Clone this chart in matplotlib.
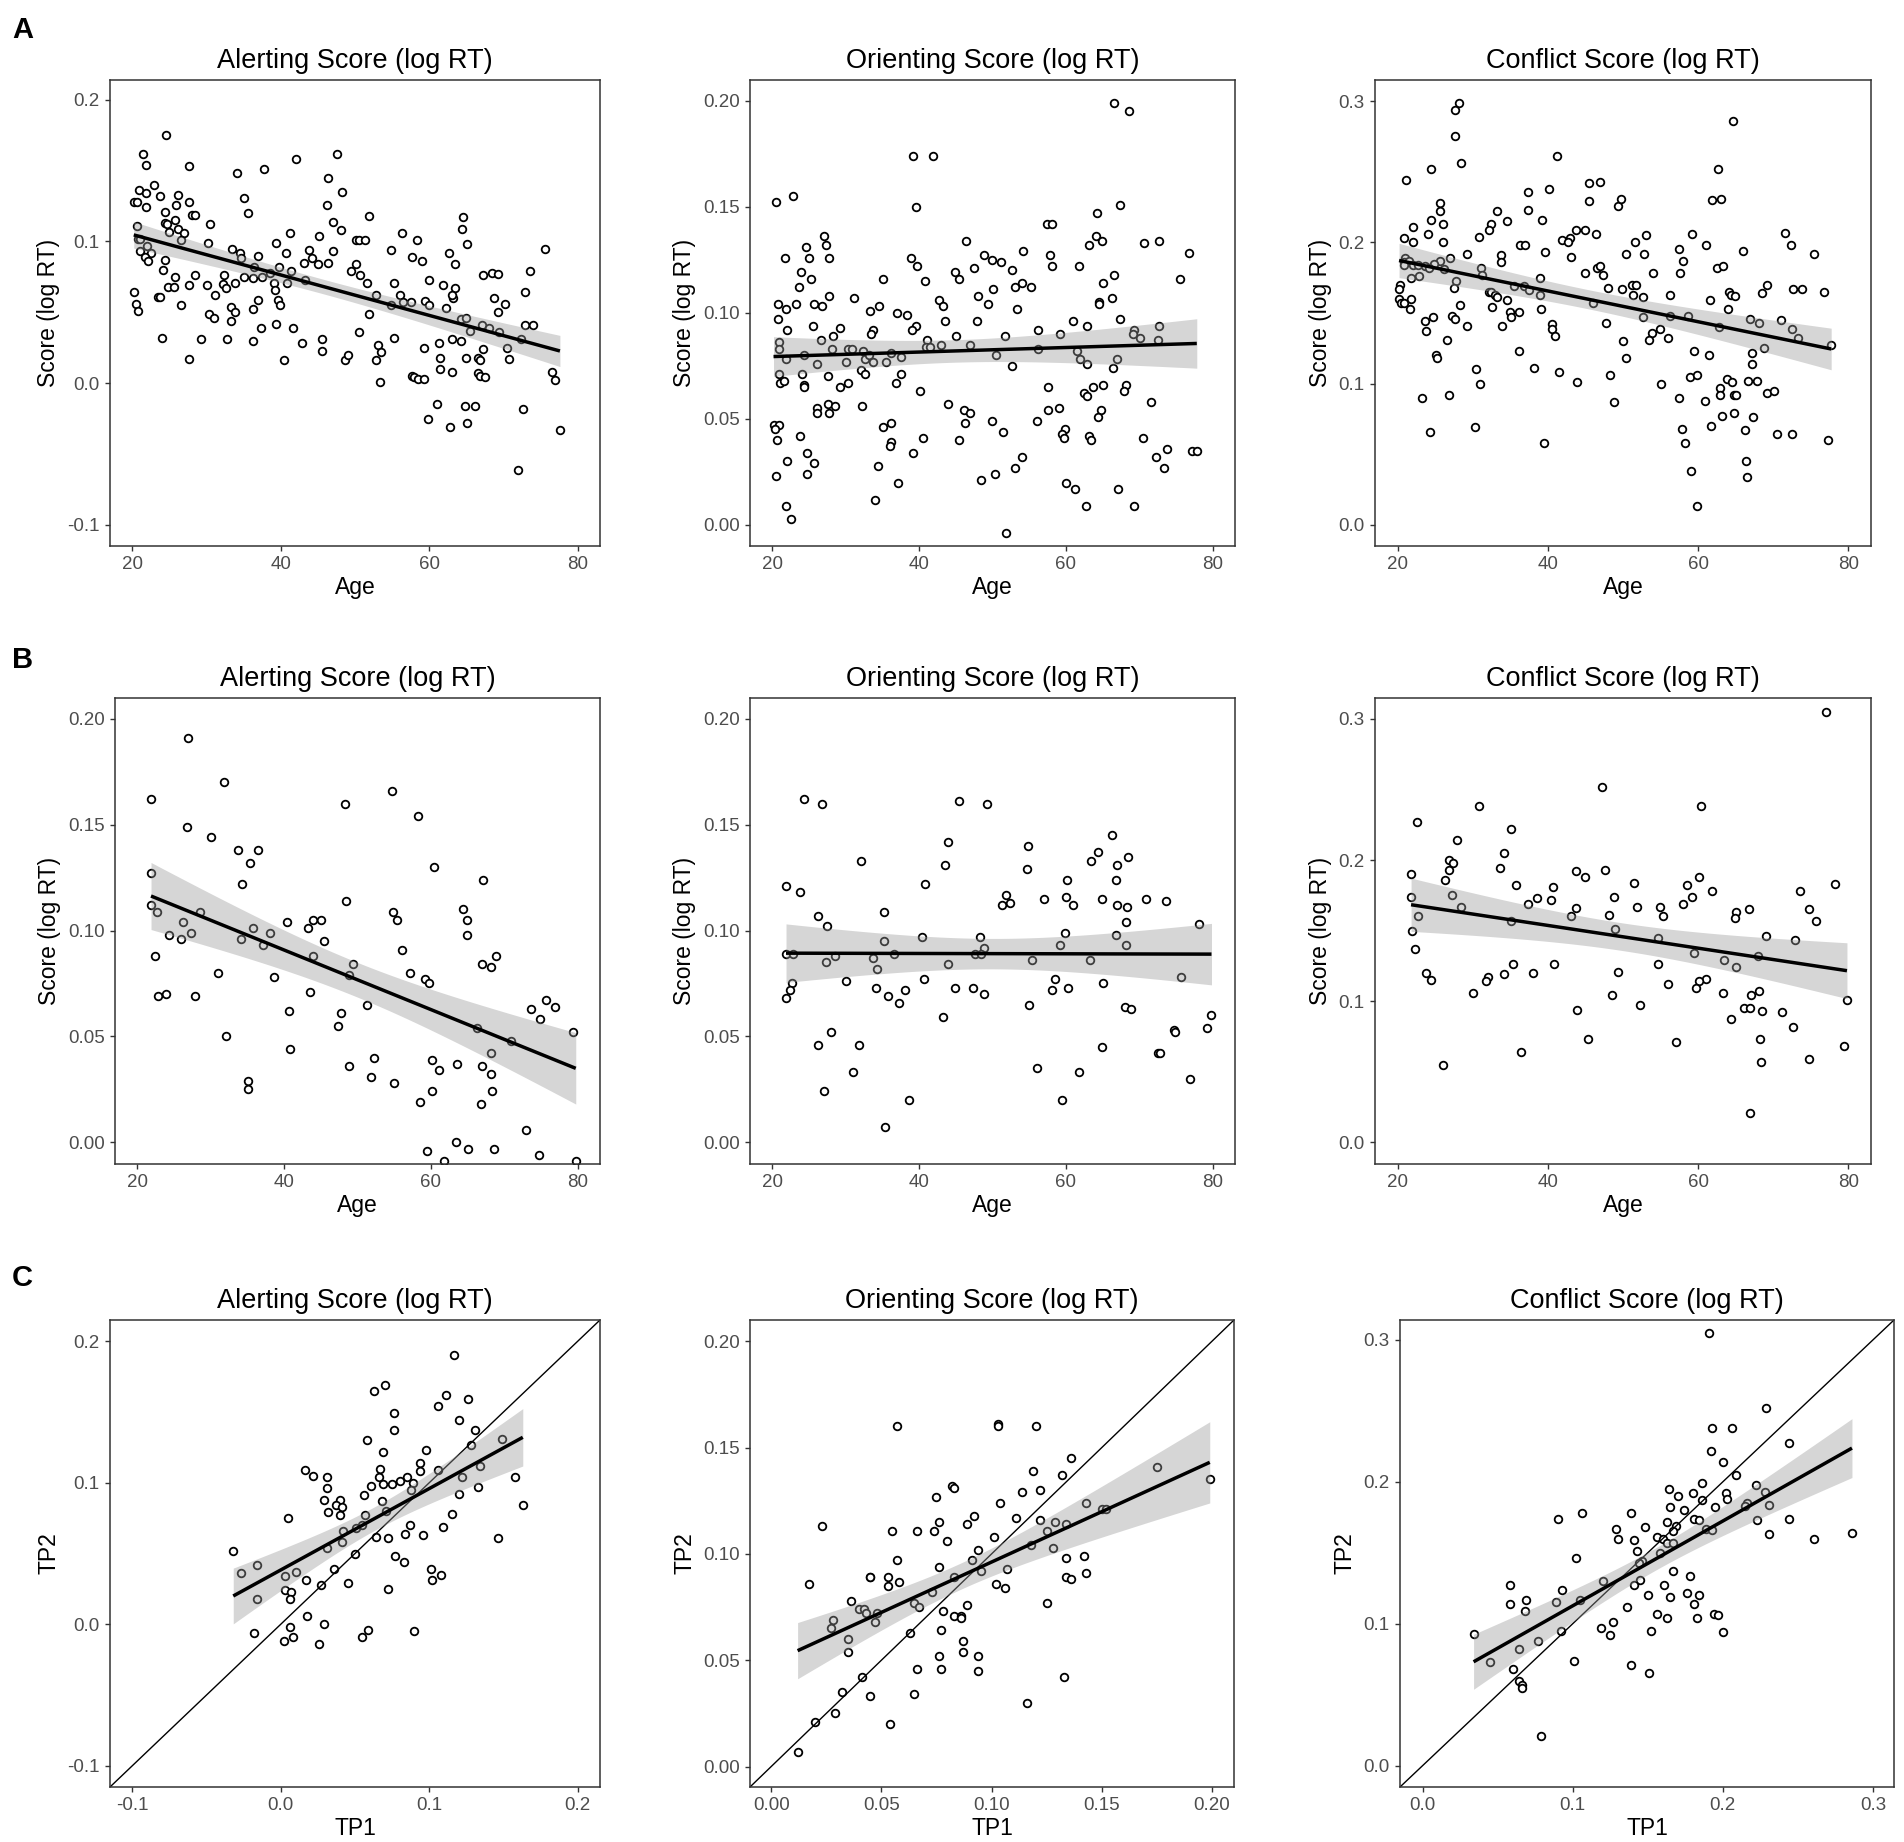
import numpy as np
import matplotlib
matplotlib.use('Agg')
import matplotlib.pyplot as plt

plt.rcParams['font.family'] = ['Liberation Sans', 'DejaVu Sans']
plt.rcParams['axes.unicode_minus'] = False

# ---- Row A: score vs age (TP1, full sample) ----
a_alert = [
    (24.5, 0.175), (21.5, 0.162), (21.8, 0.154), (27.6, 0.153), (34.1, 0.148), (37.7, 0.151),
    (42.1, 0.158), (47.6, 0.162), (46.4, 0.145), (48.2, 0.135), (22.9, 0.140), (20.9, 0.136),
    (21.9, 0.134), (23.7, 0.132), (26.2, 0.133), (35.0, 0.131), (20.2, 0.128), (20.6, 0.128),
    (27.6, 0.128), (25.9, 0.126), (21.9, 0.124), (24.4, 0.121), (35.6, 0.120), (28.1, 0.119),
    (28.5, 0.119), (46.2, 0.126), (51.9, 0.118), (64.6, 0.117), (25.8, 0.115), (24.4, 0.113),
    (24.7, 0.112), (30.5, 0.112), (20.6, 0.111), (47.0, 0.114), (26.1, 0.109), (25.0, 0.107),
    (27.0, 0.106), (64.4, 0.109), (41.2, 0.106), (48.1, 0.108), (45.1, 0.104), (56.3, 0.106),
    (58.3, 0.101), (20.8, 0.102), (21.1, 0.102), (26.6, 0.101), (30.2, 0.099), (39.3, 0.099),
    (50.2, 0.101), (50.6, 0.101), (51.3, 0.101), (65.1, 0.098), (22.0, 0.097), (21.1, 0.093),
    (22.5, 0.092), (21.7, 0.089), (22.1, 0.086), (24.4, 0.087), (33.4, 0.095), (34.5, 0.092),
    (34.6, 0.088), (40.7, 0.092), (43.8, 0.094), (44.2, 0.088), (43.1, 0.085), (45.0, 0.084),
    (37.0, 0.090), (54.8, 0.094), (57.7, 0.089), (59.0, 0.086), (62.7, 0.092), (63.5, 0.084),
    (50.1, 0.084), (47.0, 0.093), (46.3, 0.085), (24.1, 0.080), (36.4, 0.082), (39.7, 0.082),
    (41.4, 0.079), (38.5, 0.078), (49.5, 0.079), (50.7, 0.076), (67.3, 0.076), (68.5, 0.078),
    (69.3, 0.077), (73.6, 0.079), (75.6, 0.095), (25.8, 0.075), (28.5, 0.076), (35.1, 0.075),
    (36.3, 0.074), (37.5, 0.075), (32.3, 0.076), (43.3, 0.073), (39.1, 0.071), (40.8, 0.071),
    (33.9, 0.071), (32.2, 0.070), (32.6, 0.067), (30.1, 0.069), (27.7, 0.069), (24.8, 0.068),
    (25.6, 0.068), (51.6, 0.071), (55.2, 0.071), (60.0, 0.073), (61.8, 0.069), (63.5, 0.067),
    (20.2, 0.064), (23.4, 0.061), (23.8, 0.061), (31.2, 0.062), (39.2, 0.066), (39.6, 0.059),
    (39.9, 0.055), (37.0, 0.059), (52.8, 0.062), (56.1, 0.062), (59.4, 0.058), (60.0, 0.055),
    (57.6, 0.057), (56.5, 0.057), (54.9, 0.055), (63.2, 0.060), (63.0, 0.062), (62.2, 0.053),
    (68.7, 0.060), (70.2, 0.056), (72.9, 0.064), (20.5, 0.056), (20.8, 0.051), (26.6, 0.055),
    (33.3, 0.054), (33.9, 0.050), (36.3, 0.052), (30.4, 0.049), (31.0, 0.046), (33.3, 0.044),
    (51.9, 0.049), (69.3, 0.050), (64.3, 0.045), (65.0, 0.046), (65.5, 0.037), (37.3, 0.039),
    (39.3, 0.042), (41.6, 0.039), (50.5, 0.036), (67.1, 0.041), (68.1, 0.039), (69.4, 0.036),
    (72.9, 0.041), (74.0, 0.041), (24.0, 0.032), (29.2, 0.031), (32.7, 0.031), (36.2, 0.030),
    (42.9, 0.028), (45.6, 0.031), (45.6, 0.023), (55.3, 0.032), (53.1, 0.027), (53.5, 0.022),
    (61.3, 0.028), (63.0, 0.031), (64.3, 0.030), (59.3, 0.025), (67.3, 0.024), (70.5, 0.025),
    (72.4, 0.031), (27.6, 0.017), (40.4, 0.016), (48.6, 0.016), (49.0, 0.020), (52.8, 0.016),
    (61.5, 0.018), (61.4, 0.010), (63.0, 0.008), (64.9, 0.018), (66.6, 0.018), (66.8, 0.016),
    (66.5, 0.007), (66.8, 0.005), (67.5, 0.004), (70.8, 0.017), (57.7, 0.005), (58.0, 0.004),
    (58.5, 0.003), (59.3, 0.003), (53.3, 0.001), (76.6, 0.008), (77.0, 0.002), (61.0, -0.015),
    (59.8, -0.025), (62.8, -0.031), (64.8, -0.016), (65.1, -0.028), (66.2, -0.016), (72.6, -0.018),
    (77.6, -0.033), (71.9, -0.061),
]

a_orient = [
    (20.6, 0.152), (22.9, 0.155), (39.2, 0.174), (41.9, 0.174), (39.6, 0.150), (66.6, 0.199),
    (68.6, 0.195), (67.3, 0.151), (64.2, 0.147), (57.4, 0.142), (58.1, 0.142), (27.1, 0.136),
    (27.3, 0.132), (24.6, 0.131), (27.7, 0.126), (21.7, 0.126), (25.0, 0.126), (25.3, 0.116),
    (24.0, 0.119), (23.7, 0.112), (46.4, 0.134), (64.1, 0.136), (64.9, 0.134), (63.2, 0.132),
    (70.6, 0.133), (72.6, 0.134), (76.8, 0.128), (54.1, 0.129), (57.8, 0.127), (48.9, 0.127),
    (49.9, 0.125), (51.2, 0.124), (38.9, 0.126), (39.7, 0.122), (58.1, 0.122), (61.8, 0.122),
    (47.5, 0.121), (52.7, 0.120), (44.9, 0.119), (45.5, 0.116), (35.1, 0.116), (40.8, 0.115),
    (66.5, 0.118), (75.5, 0.116), (65.1, 0.114), (54.0, 0.114), (53.1, 0.112), (55.3, 0.112),
    (50.1, 0.111), (27.8, 0.108), (48.0, 0.108), (66.2, 0.107), (31.1, 0.107), (42.7, 0.106),
    (20.8, 0.104), (23.3, 0.104), (21.9, 0.102), (25.7, 0.104), (26.8, 0.103), (34.5, 0.103),
    (33.3, 0.101), (43.2, 0.103), (64.5, 0.105), (64.5, 0.104), (49.4, 0.104), (37.0, 0.100),
    (38.3, 0.099), (20.8, 0.097), (67.3, 0.097), (61.0, 0.096), (43.6, 0.096), (47.9, 0.096),
    (53.3, 0.102), (25.6, 0.094), (22.0, 0.092), (29.3, 0.093), (39.6, 0.094), (39.1, 0.092),
    (33.8, 0.092), (33.4, 0.090), (62.8, 0.094), (72.7, 0.094), (69.2, 0.092), (56.2, 0.092),
    (59.2, 0.090), (69.1, 0.090), (70.1, 0.088), (45.0, 0.089), (51.7, 0.089), (28.3, 0.089),
    (21.0, 0.086), (26.6, 0.087), (41.1, 0.087), (43.0, 0.085), (46.9, 0.085), (72.5, 0.087),
    (20.9, 0.083), (28.2, 0.083), (30.4, 0.083), (30.9, 0.083), (32.4, 0.082), (36.2, 0.081),
    (41.0, 0.084), (41.5, 0.084), (56.2, 0.083), (61.5, 0.082), (21.9, 0.078), (24.4, 0.080),
    (32.6, 0.078), (33.2, 0.080), (37.5, 0.079), (50.5, 0.080), (61.9, 0.078), (66.9, 0.078),
    (30.1, 0.077), (33.8, 0.077), (35.5, 0.077), (26.1, 0.076), (52.6, 0.075), (62.9, 0.076),
    (66.4, 0.074), (21.0, 0.071), (24.1, 0.071), (32.1, 0.073), (32.6, 0.071), (37.5, 0.071),
    (27.6, 0.070), (21.1, 0.067), (21.6, 0.068), (24.3, 0.066), (24.3, 0.065), (29.3, 0.065),
    (30.3, 0.067), (36.9, 0.067), (57.5, 0.065), (63.7, 0.065), (65.1, 0.066), (68.1, 0.066),
    (67.9, 0.063), (62.5, 0.062), (62.9, 0.061), (40.2, 0.063), (44.0, 0.057), (71.6, 0.058),
    (27.6, 0.057), (28.5, 0.056), (32.2, 0.056), (26.1, 0.055), (26.1, 0.053), (27.7, 0.053),
    (46.1, 0.054), (46.9, 0.053), (57.5, 0.054), (59.0, 0.055), (64.8, 0.054), (64.4, 0.051),
    (56.0, 0.049), (50.0, 0.049), (46.3, 0.048), (36.2, 0.048), (35.1, 0.046), (20.2, 0.047),
    (20.9, 0.047), (20.4, 0.045), (20.7, 0.040), (23.8, 0.042), (59.9, 0.045), (59.5, 0.043),
    (59.7, 0.041), (51.4, 0.044), (63.1, 0.042), (63.4, 0.040), (70.5, 0.041), (40.6, 0.041),
    (45.5, 0.040), (36.2, 0.039), (36.1, 0.037), (39.2, 0.034), (24.7, 0.034), (73.8, 0.036),
    (77.2, 0.035), (77.8, 0.035), (72.2, 0.032), (54.0, 0.032), (22.1, 0.030), (25.7, 0.029),
    (34.4, 0.028), (53.0, 0.027), (73.4, 0.027), (24.8, 0.024), (50.4, 0.024), (20.6, 0.023),
    (48.4, 0.021), (37.2, 0.020), (60.0, 0.020), (61.2, 0.017), (67.1, 0.017), (34.0, 0.012),
    (21.9, 0.009), (62.7, 0.009), (69.2, 0.009), (22.6, 0.003), (51.8, -0.004),
]

a_conflict = [
    (28.2, 0.299), (27.6, 0.294), (27.7, 0.275), (28.4, 0.256), (64.6, 0.286), (41.2, 0.261),
    (62.6, 0.252), (24.5, 0.252), (21.1, 0.244), (45.5, 0.242), (46.9, 0.243), (40.2, 0.238),
    (37.4, 0.236), (61.9, 0.230), (63.1, 0.231), (45.5, 0.229), (49.4, 0.226), (49.8, 0.231),
    (25.7, 0.228), (25.7, 0.222), (33.3, 0.222), (37.3, 0.223), (24.4, 0.216), (34.5, 0.215),
    (39.2, 0.216), (26.0, 0.213), (32.4, 0.213), (32.2, 0.209), (22.0, 0.211), (43.7, 0.209),
    (44.9, 0.209), (24.1, 0.206), (20.8, 0.203), (30.9, 0.204), (41.9, 0.202), (42.9, 0.203),
    (42.7, 0.200), (46.4, 0.206), (53.0, 0.205), (59.2, 0.206), (71.5, 0.207), (22.0, 0.200),
    (26.1, 0.200), (51.6, 0.200), (36.3, 0.198), (36.9, 0.198), (61.0, 0.198), (72.3, 0.198),
    (57.5, 0.195), (66.0, 0.194), (75.4, 0.192), (29.3, 0.192), (33.8, 0.191), (39.6, 0.193),
    (50.4, 0.192), (52.8, 0.192), (43.1, 0.190), (27.0, 0.189), (21.0, 0.189), (20.8, 0.186),
    (21.5, 0.187), (33.8, 0.186), (58.0, 0.187), (25.7, 0.187), (24.9, 0.185), (20.8, 0.184),
    (22.0, 0.184), (22.7, 0.184), (23.7, 0.183), (24.2, 0.182), (46.5, 0.182), (47.0, 0.183),
    (62.5, 0.182), (63.3, 0.183), (26.2, 0.181), (31.1, 0.182), (31.2, 0.177), (22.8, 0.176),
    (21.8, 0.175), (44.9, 0.178), (47.3, 0.177), (54.0, 0.178), (57.6, 0.178), (38.9, 0.175),
    (27.8, 0.173), (27.5, 0.168), (20.3, 0.170), (20.2, 0.167), (35.5, 0.169), (36.8, 0.169),
    (37.5, 0.166), (48.0, 0.168), (49.9, 0.167), (51.2, 0.170), (51.7, 0.170), (69.2, 0.170),
    (72.6, 0.167), (73.8, 0.167), (76.8, 0.165), (32.2, 0.165), (32.5, 0.165), (33.0, 0.163),
    (33.2, 0.161), (39.0, 0.163), (51.3, 0.163), (52.7, 0.161), (56.2, 0.163), (68.5, 0.164),
    (64.1, 0.165), (64.4, 0.163), (64.9, 0.162), (20.2, 0.160), (20.4, 0.157), (20.8, 0.157),
    (21.8, 0.160), (21.6, 0.153), (34.5, 0.159), (28.3, 0.156), (46.0, 0.157), (61.6, 0.159),
    (32.6, 0.154), (34.9, 0.151), (36.1, 0.151), (35.1, 0.147), (39.1, 0.153), (64.0, 0.153),
    (27.3, 0.148), (27.6, 0.146), (24.7, 0.147), (23.6, 0.144), (23.8, 0.137), (52.6, 0.147),
    (56.2, 0.148), (58.7, 0.148), (66.9, 0.146), (68.1, 0.143), (71.0, 0.145), (47.8, 0.143),
    (33.9, 0.141), (29.3, 0.141), (40.6, 0.142), (40.6, 0.139), (62.8, 0.140), (72.5, 0.139),
    (54.9, 0.139), (53.9, 0.136), (41.0, 0.134), (53.4, 0.131), (56.0, 0.132), (26.6, 0.131),
    (50.0, 0.130), (73.3, 0.132), (77.7, 0.127), (68.8, 0.125), (36.1, 0.123), (59.5, 0.123),
    (67.1, 0.122), (61.4, 0.120), (25.1, 0.120), (25.2, 0.118), (50.4, 0.118), (67.1, 0.114),
    (30.5, 0.110), (38.2, 0.111), (41.5, 0.108), (48.3, 0.106), (58.9, 0.105), (59.8, 0.106),
    (63.8, 0.103), (64.5, 0.101), (66.6, 0.102), (67.8, 0.102), (31.0, 0.100), (43.9, 0.101),
    (55.1, 0.100), (62.9, 0.097), (62.9, 0.092), (64.8, 0.092), (65.0, 0.092), (69.2, 0.093),
    (70.1, 0.095), (26.8, 0.092), (23.3, 0.090), (57.4, 0.090), (48.8, 0.087), (60.9, 0.088),
    (63.2, 0.077), (64.8, 0.079), (67.3, 0.076), (30.3, 0.069), (61.7, 0.070), (57.8, 0.068),
    (24.3, 0.066), (66.3, 0.067), (72.5, 0.064), (70.5, 0.064), (77.3, 0.060), (39.5, 0.058),
    (58.2, 0.058), (66.4, 0.045), (59.1, 0.038), (66.5, 0.034), (59.8, 0.013),
]

# ---- Row B: score vs age (retest sample) ----
b_alert = [
    (26.9, 0.191), (31.8, 0.170), (21.9, 0.162), (54.7, 0.166), (48.3, 0.160), (58.2, 0.154),
    (26.8, 0.149), (30.0, 0.144), (33.7, 0.138), (36.4, 0.138), (35.4, 0.132), (60.4, 0.130),
    (21.9, 0.127), (67.1, 0.124), (34.3, 0.122), (48.4, 0.114), (21.9, 0.112), (22.7, 0.109),
    (28.6, 0.109), (54.8, 0.109), (55.4, 0.105), (64.4, 0.110), (64.9, 0.105), (64.9, 0.098),
    (26.2, 0.104), (40.4, 0.104), (43.9, 0.105), (45.0, 0.105), (43.2, 0.101), (35.8, 0.101),
    (38.1, 0.099), (24.3, 0.098), (27.3, 0.099), (26.0, 0.096), (34.1, 0.096), (45.5, 0.095),
    (37.2, 0.093), (56.1, 0.091), (22.4, 0.088), (44.0, 0.088), (68.9, 0.088), (49.4, 0.084),
    (66.9, 0.084), (68.1, 0.083), (31.0, 0.080), (57.1, 0.080), (48.9, 0.079), (38.6, 0.078),
    (59.2, 0.077), (59.7, 0.075), (43.6, 0.071), (23.9, 0.070), (22.8, 0.069), (27.9, 0.069),
    (51.3, 0.065), (75.7, 0.067), (73.6, 0.063), (76.9, 0.064), (74.8, 0.058), (40.7, 0.062),
    (47.7, 0.061), (47.3, 0.055), (66.2, 0.054), (79.3, 0.052), (32.1, 0.050), (70.9, 0.048),
    (40.8, 0.044), (68.2, 0.042), (52.3, 0.040), (60.1, 0.039), (63.5, 0.037), (48.9, 0.036),
    (66.9, 0.036), (61.1, 0.034), (51.9, 0.031), (68.2, 0.032), (35.1, 0.029), (35.1, 0.025),
    (54.9, 0.028), (60.1, 0.024), (68.3, 0.024), (58.5, 0.019), (66.8, 0.018), (72.9, 0.006),
    (63.4, 0.000), (65.1, -0.003), (68.6, -0.003), (59.4, -0.004), (61.8, -0.009), (74.7, -0.006),
    (79.7, -0.009),
]

b_orient = [
    (24.4, 0.162), (26.8, 0.160), (45.4, 0.161), (49.3, 0.160), (66.2, 0.145), (54.8, 0.140),
    (43.9, 0.142), (64.4, 0.137), (63.4, 0.133), (68.5, 0.135), (32.1, 0.133), (43.6, 0.131),
    (66.9, 0.131), (54.7, 0.129), (66.8, 0.124), (60.1, 0.124), (21.9, 0.121), (40.8, 0.122),
    (23.8, 0.118), (51.9, 0.117), (51.3, 0.112), (52.4, 0.113), (57.0, 0.115), (60.0, 0.116),
    (61.0, 0.112), (64.9, 0.115), (67.0, 0.112), (68.3, 0.111), (70.9, 0.115), (73.6, 0.114),
    (35.2, 0.109), (26.2, 0.107), (27.5, 0.102), (68.2, 0.104), (78.1, 0.103), (40.4, 0.097),
    (59.8, 0.099), (48.3, 0.097), (66.8, 0.098), (35.2, 0.095), (68.2, 0.093), (48.9, 0.092),
    (59.2, 0.093), (21.9, 0.089), (22.8, 0.089), (28.6, 0.088), (36.6, 0.089), (47.6, 0.089),
    (48.4, 0.089), (33.7, 0.087), (27.4, 0.085), (55.4, 0.086), (63.3, 0.086), (34.3, 0.082),
    (43.9, 0.084), (75.7, 0.078), (30.0, 0.076), (40.7, 0.077), (58.5, 0.077), (22.7, 0.075),
    (34.1, 0.073), (47.3, 0.073), (22.4, 0.072), (38.1, 0.072), (44.9, 0.073), (58.1, 0.072),
    (60.3, 0.073), (65.0, 0.075), (21.9, 0.068), (35.8, 0.069), (48.9, 0.070), (37.3, 0.066),
    (54.9, 0.065), (68.0, 0.064), (68.8, 0.063), (79.8, 0.060), (43.3, 0.059), (79.2, 0.054),
    (74.7, 0.053), (74.8, 0.052), (28.0, 0.052), (26.2, 0.046), (31.9, 0.046), (64.9, 0.045),
    (72.5, 0.042), (72.8, 0.042), (56.1, 0.035), (31.0, 0.033), (61.8, 0.033), (76.9, 0.030),
    (27.1, 0.024), (38.6, 0.020), (59.4, 0.020), (35.4, 0.007),
]

b_conflict = [
    (77.0, 0.305), (47.2, 0.252), (30.9, 0.238), (60.4, 0.238), (22.6, 0.227), (35.1, 0.222),
    (27.9, 0.214), (34.2, 0.205), (26.8, 0.200), (27.4, 0.198), (33.6, 0.194), (21.8, 0.190),
    (26.8, 0.193), (43.8, 0.192), (47.6, 0.193), (45.0, 0.188), (60.1, 0.188), (26.3, 0.186),
    (51.4, 0.184), (58.5, 0.182), (78.2, 0.183), (35.7, 0.182), (40.7, 0.181), (61.9, 0.178),
    (73.6, 0.178), (21.8, 0.174), (27.3, 0.175), (48.8, 0.174), (59.2, 0.174), (38.6, 0.173),
    (40.4, 0.172), (37.3, 0.169), (58.0, 0.169), (28.5, 0.167), (51.9, 0.167), (54.9, 0.167),
    (43.7, 0.166), (66.8, 0.165), (74.8, 0.165), (65.1, 0.163), (64.9, 0.159), (43.1, 0.160),
    (48.2, 0.161), (22.7, 0.160), (55.3, 0.160), (75.7, 0.157), (35.1, 0.157), (48.9, 0.151),
    (69.0, 0.146), (54.7, 0.145), (72.9, 0.143), (21.9, 0.150), (22.3, 0.137), (59.5, 0.134),
    (68.0, 0.132), (63.4, 0.129), (35.4, 0.126), (40.8, 0.126), (54.7, 0.126), (65.0, 0.124),
    (49.4, 0.121), (23.8, 0.120), (34.1, 0.119), (38.0, 0.120), (24.4, 0.115), (32.0, 0.117),
    (31.8, 0.114), (61.1, 0.116), (60.1, 0.114), (56.0, 0.112), (59.7, 0.109), (30.0, 0.106),
    (63.3, 0.106), (68.1, 0.107), (48.5, 0.104), (67.0, 0.104), (79.8, 0.101), (52.2, 0.097),
    (66.1, 0.095), (66.9, 0.095), (43.9, 0.094), (68.5, 0.093), (71.1, 0.092), (64.4, 0.087),
    (72.6, 0.082), (68.2, 0.073), (57.0, 0.071), (45.4, 0.073), (79.4, 0.068), (36.4, 0.064),
    (74.7, 0.059), (68.4, 0.057), (26.0, 0.055), (66.9, 0.021),
]

# ---- Row C: TP2 vs TP1 ----
c_alert = [
    (0.117, 0.190), (0.070, 0.169), (0.063, 0.165), (0.111, 0.162), (0.126, 0.159), (0.106, 0.154),
    (0.076, 0.149), (0.120, 0.144), (0.076, 0.137), (0.131, 0.137), (0.058, 0.130), (0.149, 0.131),
    (0.128, 0.127), (0.098, 0.123), (0.069, 0.122), (0.094, 0.114), (0.134, 0.112), (0.094, 0.108),
    (0.106, 0.109), (0.016, 0.109), (0.022, 0.105), (0.031, 0.104), (0.067, 0.110), (0.066, 0.104),
    (0.085, 0.104), (0.122, 0.104), (0.158, 0.104), (0.069, 0.099), (0.075, 0.099), (0.080, 0.101),
    (0.089, 0.100), (0.061, 0.098), (0.088, 0.095), (0.133, 0.097), (0.031, 0.096), (0.056, 0.091),
    (0.120, 0.092), (0.029, 0.088), (0.040, 0.088), (0.068, 0.087), (0.037, 0.084), (0.041, 0.083),
    (0.163, 0.084), (0.032, 0.079), (0.040, 0.077), (0.071, 0.080), (0.057, 0.077), (0.115, 0.078),
    (0.005, 0.075), (0.055, 0.070), (0.051, 0.068), (0.087, 0.070), (0.109, 0.069), (0.042, 0.066),
    (0.084, 0.064), (0.096, 0.063), (0.064, 0.062), (0.072, 0.061), (0.146, 0.061), (0.041, 0.058),
    (0.031, 0.054), (-0.032, 0.052), (0.050, 0.050), (0.077, 0.048), (0.083, 0.044), (-0.016, 0.042),
    (0.036, 0.039), (0.101, 0.039), (0.108, 0.035), (-0.027, 0.036), (0.010, 0.037), (0.003, 0.034),
    (0.102, 0.031), (0.017, 0.031), (0.045, 0.029), (0.027, 0.028), (0.072, 0.025), (0.003, 0.024),
    (0.007, 0.023), (0.006, 0.018), (-0.016, 0.018), (0.018, 0.006), (0.029, 0.000), (0.006, -0.002),
    (0.059, -0.004), (-0.018, -0.006), (0.090, -0.005), (0.055, -0.009), (0.008, -0.009), (0.002, -0.012),
    (0.026, -0.014),
]

c_orient = [
    (0.057, 0.160), (0.103, 0.161), (0.103, 0.160), (0.120, 0.160), (0.136, 0.145), (0.175, 0.141),
    (0.119, 0.139), (0.132, 0.137), (0.199, 0.135), (0.082, 0.132), (0.083, 0.131), (0.114, 0.129),
    (0.122, 0.130), (0.075, 0.127), (0.104, 0.124), (0.143, 0.124), (0.150, 0.121), (0.152, 0.121),
    (0.111, 0.117), (0.092, 0.118), (0.122, 0.116), (0.129, 0.115), (0.134, 0.114), (0.076, 0.115),
    (0.089, 0.114), (0.125, 0.111), (0.023, 0.113), (0.055, 0.111), (0.066, 0.111), (0.074, 0.111),
    (0.101, 0.108), (0.080, 0.106), (0.118, 0.104), (0.128, 0.103), (0.094, 0.102), (0.142, 0.099),
    (0.134, 0.098), (0.057, 0.097), (0.091, 0.097), (0.076, 0.094), (0.095, 0.092), (0.107, 0.093),
    (0.143, 0.091), (0.045, 0.089), (0.045, 0.089), (0.053, 0.089), (0.083, 0.089), (0.134, 0.089),
    (0.136, 0.088), (0.058, 0.087), (0.017, 0.086), (0.053, 0.085), (0.102, 0.086), (0.106, 0.084),
    (0.073, 0.082), (0.036, 0.078), (0.125, 0.077), (0.089, 0.076), (0.065, 0.077), (0.067, 0.075),
    (0.040, 0.074), (0.042, 0.074), (0.078, 0.073), (0.043, 0.072), (0.048, 0.072), (0.083, 0.071),
    (0.086, 0.071), (0.086, 0.070), (0.028, 0.069), (0.047, 0.068), (0.027, 0.065), (0.077, 0.064),
    (0.063, 0.063), (0.035, 0.060), (0.087, 0.059), (0.035, 0.054), (0.087, 0.054), (0.076, 0.052),
    (0.094, 0.052), (0.066, 0.046), (0.077, 0.046), (0.094, 0.045), (0.041, 0.042), (0.133, 0.042),
    (0.032, 0.035), (0.045, 0.033), (0.065, 0.034), (0.116, 0.030), (0.029, 0.025), (0.020, 0.021),
    (0.054, 0.020), (0.012, 0.007),
]

c_conflict = [
    (0.191, 0.305), (0.229, 0.252), (0.193, 0.238), (0.206, 0.238), (0.192, 0.222), (0.244, 0.227),
    (0.200, 0.214), (0.209, 0.205), (0.186, 0.199), (0.222, 0.198), (0.164, 0.195), (0.180, 0.192),
    (0.202, 0.192), (0.228, 0.193), (0.170, 0.190), (0.203, 0.188), (0.186, 0.187), (0.216, 0.185),
    (0.215, 0.183), (0.231, 0.184), (0.165, 0.182), (0.195, 0.182), (0.174, 0.180), (0.106, 0.178),
    (0.139, 0.178), (0.090, 0.174), (0.181, 0.174), (0.184, 0.173), (0.244, 0.174), (0.223, 0.173),
    (0.163, 0.172), (0.169, 0.169), (0.148, 0.168), (0.129, 0.167), (0.189, 0.167), (0.193, 0.166),
    (0.167, 0.165), (0.286, 0.164), (0.231, 0.163), (0.156, 0.161), (0.160, 0.160), (0.130, 0.160),
    (0.261, 0.160), (0.141, 0.159), (0.163, 0.157), (0.167, 0.157), (0.143, 0.151), (0.158, 0.150),
    (0.102, 0.146), (0.146, 0.144), (0.144, 0.143), (0.167, 0.137), (0.178, 0.134), (0.145, 0.131),
    (0.120, 0.130), (0.058, 0.127), (0.141, 0.127), (0.161, 0.127), (0.093, 0.124), (0.176, 0.122),
    (0.184, 0.120), (0.150, 0.120), (0.165, 0.119), (0.069, 0.117), (0.105, 0.117), (0.058, 0.114),
    (0.089, 0.115), (0.181, 0.114), (0.136, 0.112), (0.068, 0.109), (0.156, 0.107), (0.194, 0.107),
    (0.197, 0.106), (0.163, 0.104), (0.183, 0.104), (0.127, 0.101), (0.119, 0.097), (0.125, 0.092),
    (0.092, 0.095), (0.152, 0.095), (0.200, 0.094), (0.034, 0.093), (0.077, 0.088), (0.064, 0.082),
    (0.045, 0.073), (0.101, 0.074), (0.139, 0.071), (0.060, 0.068), (0.151, 0.065), (0.064, 0.060),
    (0.066, 0.057), (0.066, 0.055), (0.079, 0.021),
]

titles = ['Alerting Score (log RT)', 'Orienting Score (log RT)', 'Conflict Score (log RT)']
row_letters = ['A', 'B', 'C']

W, H = 1904, 1842
fig = plt.figure(figsize=(W / 100, H / 100), dpi=100)


def px_rect(x0, x1, y0, y1):
    return [x0 / W, 1 - y1 / H, (x1 - x0) / W, (y1 - y0) / H]


def add_fit(ax, x, y):
    # linear fit with 95% confidence band (like geom_smooth(method = "lm"))
    n = len(x)
    slope, icpt = np.polyfit(x, y, 1)
    xg = np.linspace(x.min(), x.max(), 120)
    yg = icpt + slope * xg
    resid = y - (icpt + slope * x)
    s = np.sqrt(np.sum(resid ** 2) / (n - 2))
    sxx = np.sum((x - x.mean()) ** 2)
    se = s * np.sqrt(1 / n + (xg - x.mean()) ** 2 / sxx)
    z = 1.96
    t = z + (z ** 3 + z) / (4 * (n - 2))
    ax.fill_between(xg, yg - t * se, yg + t * se, color='#999999', alpha=0.4, lw=0, zorder=3)
    ax.plot(xg, yg, color='black', lw=2.5, zorder=4, solid_capstyle='butt')


def panel(rect, data, title, xlim, ylim, xticks, yticks, xfmt, yfmt, xlabel, ylabel, diag=False):
    ax = fig.add_axes(rect)
    d = np.array(data)
    x, y = d[:, 0], d[:, 1]
    ax.scatter(x, y, s=30, facecolor='white', edgecolor='black', linewidth=1.3, zorder=2)
    if diag:
        ax.plot(xlim, xlim, color='black', lw=1.0, zorder=2.5)
    add_fit(ax, x, y)
    ax.set_xlim(xlim)
    ax.set_ylim(ylim)
    ax.set_xticks(xticks)
    ax.set_xticklabels([xfmt % v for v in xticks])
    ax.set_yticks(yticks)
    ax.set_yticklabels([yfmt % v for v in yticks])
    ax.tick_params(direction='out', length=3.8, width=1.0, color='#333333',
                   labelcolor='#4D4D4D', labelsize=13.5, pad=3.5)
    for sp in ax.spines.values():
        sp.set_linewidth(1.1)
        sp.set_color('#333333')
    ax.set_title(title, fontsize=19.5, pad=9)
    ax.set_xlabel(xlabel, fontsize=16.5, labelpad=2)
    ax.set_ylabel(ylabel, fontsize=16.5, labelpad=5)
    return ax


age_lim = (17.0, 83.0)
age_ticks = [20, 40, 60, 80]

# row A
panel(px_rect(110, 600, 80, 546), a_alert, titles[0], age_lim, (-0.115, 0.214),
      age_ticks, [-0.1, 0.0, 0.1, 0.2], '%d', '%.1f', 'Age', 'Score (log RT)')
panel(px_rect(750, 1235, 80, 546), a_orient, titles[1], age_lim, (-0.0099, 0.2097),
      age_ticks, [0.0, 0.05, 0.10, 0.15, 0.20], '%d', '%.2f', 'Age', 'Score (log RT)')
panel(px_rect(1375, 1871, 80, 546), a_conflict, titles[2], age_lim, (-0.015, 0.315),
      age_ticks, [0.0, 0.1, 0.2, 0.3], '%d', '%.1f', 'Age', 'Score (log RT)')

# row B
panel(px_rect(115, 600, 698, 1164), b_alert, titles[0], age_lim, (-0.0103, 0.2099),
      age_ticks, [0.0, 0.05, 0.10, 0.15, 0.20], '%d', '%.2f', 'Age', 'Score (log RT)')
panel(px_rect(750, 1235, 698, 1164), b_orient, titles[1], age_lim, (-0.0103, 0.2099),
      age_ticks, [0.0, 0.05, 0.10, 0.15, 0.20], '%d', '%.2f', 'Age', 'Score (log RT)')
panel(px_rect(1375, 1871, 698, 1164), b_conflict, titles[2], age_lim, (-0.0154, 0.3148),
      age_ticks, [0.0, 0.1, 0.2, 0.3], '%d', '%.1f', 'Age', 'Score (log RT)')

# row C
lim1 = (-0.115, 0.215)
panel(px_rect(110, 600, 1320, 1787), c_alert, titles[0], lim1, lim1,
      [-0.1, 0.0, 0.1, 0.2], [-0.1, 0.0, 0.1, 0.2], '%.1f', '%.1f', 'TP1', 'TP2', diag=True)
lim2 = (-0.0096, 0.21)
panel(px_rect(750, 1234, 1320, 1787), c_orient, titles[1], lim2, lim2,
      [0.0, 0.05, 0.10, 0.15, 0.20], [0.0, 0.05, 0.10, 0.15, 0.20], '%.2f', '%.2f', 'TP1', 'TP2', diag=True)
lim3 = (-0.015, 0.314)
panel(px_rect(1400, 1894, 1320, 1787), c_conflict, titles[2], lim3, lim3,
      [0.0, 0.1, 0.2, 0.3], [0.0, 0.1, 0.2, 0.3], '%.1f', '%.1f', 'TP1', 'TP2', diag=True)

# panel letters
for letter, ybase in zip(row_letters, [38, 668, 1286]):
    fig.text(12 / W, 1 - ybase / H, letter, fontsize=21, fontweight='bold', va='baseline')

fig.savefig('out.png', dpi=100)
